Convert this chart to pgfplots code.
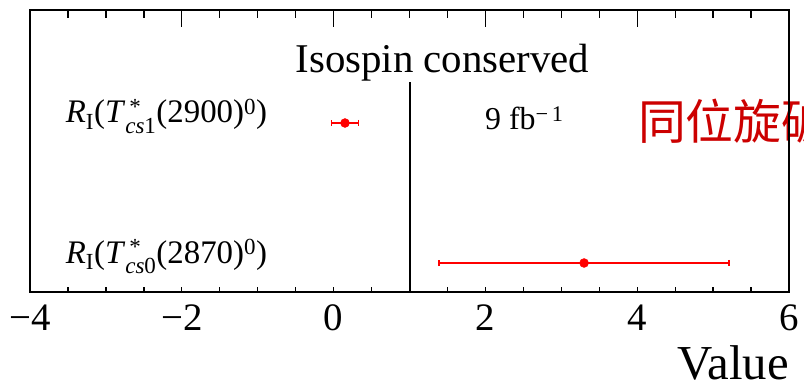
\documentclass[border=0pt]{standalone}
\usepackage{fontspec}
\setmainfont{Liberation Serif}
\newfontfamily\cjk{Noto Sans CJK SC}
\usepackage{amsmath}
\usepackage{pgfplots}
\pgfplotsset{compat=1.18}
\definecolor{cnred}{RGB}{204,0,0}
\begin{document}
\begin{tikzpicture}
\begin{axis}[
  at={(30bp,91bp)}, anchor=south west,
  scale only axis, width=759bp, height=282bp,
  xmin=-4, xmax=6, ymin=0, ymax=282,
  axis line style={line width=2bp},
  xtick={-4,-2,0,2,4,6},
  xticklabels={−4,−2,0,2,4,6},
  minor x tick num=3,
  xtick pos=left,
  tick align=inside,
  major tick length=5bp, minor tick length=5bp,
  tick style={black, line width=1.3bp},
  ytick=\empty,
  xticklabel style={font=\fontsize{39}{39}\selectfont, anchor=base, yshift=-38bp, inner sep=0pt},
  xlabel={Value},
  xlabel style={at={(rel axis cs:1,0)}, anchor=base east, yshift=-87bp, font=\fontsize{49}{49}\selectfont, inner sep=0pt},
  clip=false,
]
\node[anchor=base west, text=cnred, font=\cjk\fontsize{48}{48}\selectfont, inner sep=0pt] at (axis cs:4.01,152) {同位旋破缺};
\addplot[black, line width=2bp] coordinates {(1,0) (1,210)};
\addplot[only marks, red, mark=*, mark size=4.5bp, mark options={fill=red, draw=red},
  error bars/.cd, x dir=both, x explicit,
  error bar style={line width=2bp, red},
  error mark options={rotate=90, red, mark size=3bp, line width=1.5bp}]
  coordinates {(0.15,169) +- (0.18,0) (3.30,29) +- (1.91,0)};
\node[anchor=base west, inner sep=0pt, font=\fontsize{33}{33}\selectfont] at (axis cs:-3.53,169)
  {\textit{R}$_{\text{I}}$(\textit{T}$^{\,\text{*}}_{\textit{cs}\text{1}}$(2900)$^{\text{0}}$)};
\node[anchor=base west, inner sep=0pt, font=\fontsize{33}{33}\selectfont] at (axis cs:-3.53,29)
  {\textit{R}$_{\text{I}}$(\textit{T}$^{\,\text{*}}_{\textit{cs}\text{0}}$(2870)$^{\text{0}}$)};
\node[anchor=base, inner sep=0pt, font=\fontsize{41}{41}\selectfont] at (axis cs:1.435,219) {Isospin conserved};
\node[anchor=base west, inner sep=0pt, font=\fontsize{32}{32}\selectfont] at (axis cs:1.995,162) {9 fb\textsuperscript{−\,1}};
\end{axis}
\begin{axis}[
  at={(30bp,91bp)}, anchor=south west,
  scale only axis, width=759bp, height=282bp,
  xmin=-4, xmax=6, ymin=0, ymax=282,
  axis line style={line width=2bp},
  xtick={-4,-2,0,2,4,6},
  xticklabels=\empty,
  minor x tick num=3,
  xtick pos=right,
  tick align=inside,
  major tick length=17bp, minor tick length=8bp,
  tick style={black, line width=1.3bp},
  ytick=\empty,
]
\end{axis}
\pgfresetboundingbox
\path[use as bounding box] (0bp,0bp) rectangle (804bp,383bp);
\end{tikzpicture}
\end{document}
